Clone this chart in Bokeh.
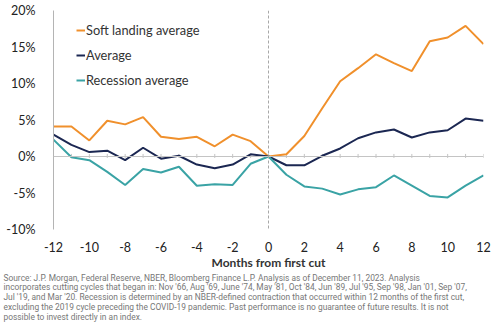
from bokeh.plotting import figure
from bokeh.models import (Range1d, FixedTicker, PrintfTickFormatter, Span, Legend,
                          LegendItem, Title, ColumnDataSource)
from bokeh.embed import file_html
from bokeh.resources import INLINE

# ---- data ----
months = list(range(-12, 13))
soft_landing = [4.1, 4.1, 2.2, 4.9, 4.4, 5.4, 2.7, 2.4, 2.7, 1.4, 3.0, 2.1, 0.0,
                0.3, 2.8, 6.6, 10.3, 12.1, 14.0, 12.8, 11.7, 15.8, 16.3, 17.9, 15.4]
average = [3.0, 1.6, 0.6, 0.8, -0.5, 1.2, -0.3, 0.1, -1.1, -1.6, -1.1, 0.3, 0.0,
           -1.2, -1.2, 0.1, 1.1, 2.5, 3.3, 3.7, 2.6, 3.3, 3.6, 5.2, 4.9]
recession = [2.3, -0.1, -0.5, -2.1, -3.9, -1.7, -2.2, -1.4, -4.0, -3.8, -3.9, -1.0, 0.0,
             -2.5, -4.1, -4.4, -5.2, -4.5, -4.2, -2.6, -4.0, -5.4, -5.6, -4.0, -2.6]
x_ticks = list(range(-12, 13, 2))
y_ticks = [-10, -5, 0, 5, 10, 15, 20]
series_names = ["Soft landing average", "Average", "Recession average"]
footnote = [
    "Source: J.P. Morgan, Federal Reserve, NBER, Bloomberg Finance L.P. Analysis as of December 11, 2023. Analysis",
    "incorporates cutting cycles that began in: Nov '66, Aug '69, June '74, May '81, Oct '84, Jun '89, Jul '95, Sep '98, Jan '01, Sep '07,",
    "Jul '19, and Mar '20. Recession is determined by an NBER-defined contraction that occurred within 12 months of the first cut,",
    "excluding the 2019 cycle preceding the COVID-19 pandemic. Past performance is no guarantee of future results. It is not",
    "possible to invest directly in an index.",
]

ORANGE = "#F0902C"
NAVY = "#1B2752"
TEAL = "#3AA3A5"
FONT = "Lato"

src = ColumnDataSource(dict(m=months, soft=soft_landing, avg=average, rec=recession))

p = figure(width=492, height=333, output_backend="svg", toolbar_location=None,
           x_range=Range1d(-12, 12), y_range=Range1d(-10, 20),
           min_border_left=53, min_border_right=9, min_border_top=10, min_border_bottom=104)
p.outline_line_color = None
p.xgrid.grid_line_color = None
p.ygrid.grid_line_color = None
p.background_fill_color = "white"

# zero line and its small ticks
p.add_layout(Span(location=0, dimension="width", line_color="#c4c4c4", line_width=1))
p.segment(x0=months, x1=months, y0=[-0.2] * len(months), y1=[0.35] * len(months),
          line_color="#c4c4c4", line_width=1)
# vertical dashed line at first cut
p.add_layout(Span(location=0, dimension="height", line_color="#a8a8a8", line_width=1,
                  line_dash="3 2"))

r_soft = p.line("m", "soft", source=src, line_color=ORANGE, line_width=2)
r_avg = p.line("m", "avg", source=src, line_color=NAVY, line_width=2)
r_rec = p.line("m", "rec", source=src, line_color=TEAL, line_width=2)

# axes
xa = p.xaxis[0]
xa.ticker = FixedTicker(ticks=x_ticks)
xa.formatter = PrintfTickFormatter(format="%d")
xa.axis_line_color = None
xa.major_tick_line_color = None
xa.minor_tick_line_color = None
xa.major_label_standoff = 6
xa.major_label_text_font = FONT
xa.major_label_text_font_size = "12.5px"
xa.major_label_text_color = "#222222"
xa.axis_label = "Months from first cut"
xa.axis_label_text_font = FONT
xa.axis_label_text_font_style = "bold"
xa.axis_label_text_font_size = "12px"
xa.axis_label_text_color = "#333333"
xa.axis_label_standoff = 0

ya = p.yaxis[0]
ya.ticker = FixedTicker(ticks=y_ticks)
ya.formatter = PrintfTickFormatter(format="%d%%")
ya.axis_line_color = "#b4b4b4"
ya.major_tick_line_color = None
ya.minor_tick_line_color = None
ya.major_label_standoff = 12
ya.major_label_text_font = FONT
ya.major_label_text_font_size = "12.5px"
ya.major_label_text_color = "#222222"

legend = Legend(items=[LegendItem(label=series_names[0], renderers=[r_soft]),
                       LegendItem(label=series_names[1], renderers=[r_avg]),
                       LegendItem(label=series_names[2], renderers=[r_rec])],
                location=(23, 141), orientation="vertical",
                background_fill_alpha=0, border_line_color=None,
                glyph_width=9, glyph_height=16, label_height=16, label_standoff=1,
                spacing=9, padding=0, margin=0,
                label_text_font=FONT, label_text_font_size="12.8px",
                label_text_color="#333333")
p.add_layout(legend, "center")

# footnote lines stacked under the x axis
for i, line in enumerate(footnote):
    p.add_layout(Title(text=line, align="left", offset=-50, standoff=(-4 if i == 0 else -2),
                       text_font="Roboto", text_font_size="8.4px",
                       text_font_style="normal", text_color="#777777"), "below")

open("out.html", "w").write(file_html(p, INLINE))
